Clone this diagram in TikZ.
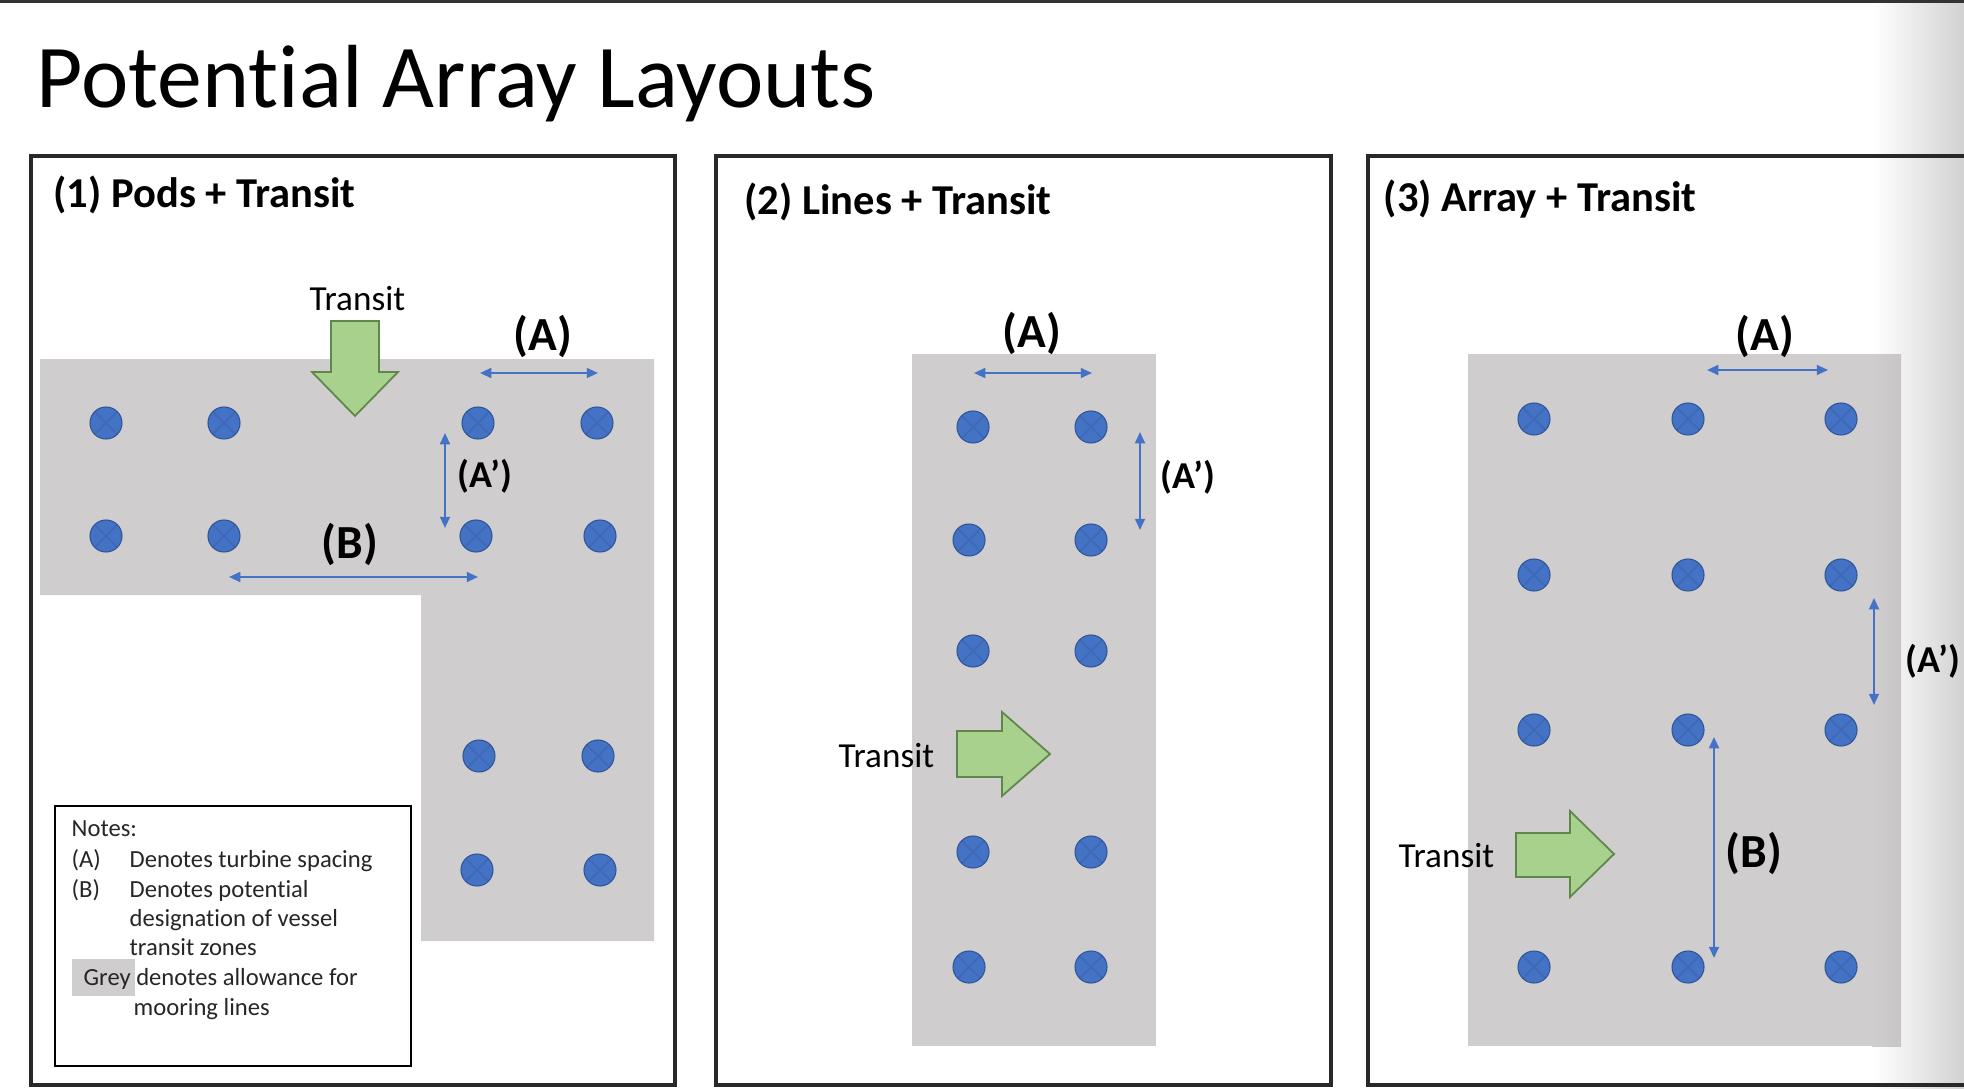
\documentclass[tikz,border=0pt]{standalone}
\usepackage{fontspec}
\setmainfont{Carlito}[Ligatures=NoCommon]
\usetikzlibrary{arrows.meta}
\definecolor{tblue}{RGB}{68,114,196}
\definecolor{tedge}{RGB}{47,85,151}
\definecolor{zone}{RGB}{208,205,206}
\definecolor{tgreen}{RGB}{169,209,142}
\definecolor{tgreenedge}{RGB}{96,135,75}
\definecolor{frame}{RGB}{40,40,40}
\definecolor{edgegray}{RGB}{210,210,210}
\begin{document}
\begin{tikzpicture}[x=0.01cm,y=-0.01cm,
  panel/.style={draw=frame,line width=0.9pt},
  turbine/.style={circle,fill=tblue,draw=tedge,line width=0.3pt,minimum size=0.32cm,inner sep=0pt,
     path picture={\draw[tedge,line width=0.5pt,opacity=0.3]
       (path picture bounding box.north west)--(path picture bounding box.south east)
       (path picture bounding box.north east)--(path picture bounding box.south west);}},
  dim/.style={draw=tblue,line width=0.6pt,{Triangle[length=3.2pt,width=2.8pt]}-{Triangle[length=3.2pt,width=2.8pt]}},
  transit/.style={fill=tgreen,draw=tgreenedge,line width=0.5pt,line join=miter},
  bigtitle/.style={font=\fontsize{25.5}{30}\selectfont,inner sep=0pt,anchor=base west},
  ptitle/.style={font=\bfseries\fontsize{12.1}{15}\selectfont,inner sep=0pt,anchor=base west},
  lab/.style={font=\bfseries\fontsize{13.5}{16}\selectfont,inner sep=0pt,anchor=base},
  labp/.style={font=\bfseries\fontsize{10.8}{13}\selectfont,inner sep=0pt,anchor=base west},
  tlab/.style={font=\fontsize{10}{12}\selectfont,inner sep=0pt,anchor=base west},
  note/.style={font=\fontsize{7}{8.5}\selectfont,inner sep=0pt,anchor=base west,text=black!85},
]
\useasboundingbox (0,0) rectangle (1964,1088);
\clip (0,0) rectangle (1964,1088);
\fill[white] (0,0) rectangle (1964,1088);
\shade[left color=white,right color=edgegray] (1872,0) rectangle (1964,1088);
\fill[black!80] (0,0) rectangle (1964,3);

% title
\node[bigtitle] (title) at (36,108) {Potential Array Layouts};

% panels
\draw[panel] (31,156) rectangle (675,1085);
\draw[panel] (716,156) rectangle (1331,1085);
\draw[panel] (1368,156) rectangle (1995,1085);

\node[ptitle] (t1) at (53,208) {(1) Pods + Transit};
\node[ptitle] (t2) at (744,215) {(2) Lines + Transit};
\node[ptitle] (t3) at (1383,212) {(3) Array + Transit};

% ---------- panel 1 ----------
\fill[zone] (40,359) -- (654,359) -- (654,941) -- (421,941) -- (421,595) -- (40,595) -- cycle;
\foreach \n/\x/\y in {a/106/423,b/224/423,c/478/423,d/597/423,e/106/536,f/224/536,g/476/536,h/600/536,i/479/756,j/598/756,k/477/870,l/600/870}
  \node[turbine] (p1\n) at (\x,\y) {};
\coordinate (p1A1) at (480,373); \coordinate (p1A2) at (598,373);
\draw[dim] (p1A1) -- (p1A2);
\node[lab] (p1Al) at (543,350) {(A)};
\coordinate (p1P1) at (445,433); \coordinate (p1P2) at (445,528);
\draw[dim] (p1P1) -- (p1P2);
\node[labp] (p1Pl) at (457,487) {(A’)};
\coordinate (p1B1) at (229,577); \coordinate (p1B2) at (478,577);
\draw[dim] (p1B1) -- (p1B2);
\node[lab] (p1Bl) at (350,558) {(B)};
\draw[transit] (331,321) -- (379,321) -- (379,372) -- (398,372) -- (355,416) -- (312,372) -- (331,372) -- cycle;
\node[tlab] (p1T) at (309,310) {Transit};

% notes
\draw[black,line width=0.8pt] (55,806) rectangle (411,1066);
\fill[zone] (72,959) rectangle (135,996);
\node[note] (n0) at (71,836) {Notes:};
\node[note] (n1a) at (71,867) {(A)};
\node[note] (n1b) at (129,867) {Denotes turbine spacing};
\node[note] (n2a) at (71,897) {(B)};
\node[note] (n2b) at (129,897) {Denotes potential};
\node[note] (n3) at (129,926) {designation of vessel};
\node[note] (n4) at (129,955) {transit zones};
\node[note] (n5) at (83,985) {Grey denotes allowance for};
\node[note] (n6) at (133,1015) {mooring lines};

% ---------- panel 2 ----------
\fill[zone] (912,354) rectangle (1156,1046);
\foreach \n/\x/\y in {a/973/427,b/1091/427,c/969/540,d/1091/540,e/973/651,f/1091/651,g/973/852,h/1091/852,i/969/967,j/1091/967}
  \node[turbine] (p2\n) at (\x,\y) {};
\coordinate (p2A1) at (974,373); \coordinate (p2A2) at (1092,373);
\draw[dim] (p2A1) -- (p2A2);
\node[lab] (p2Al) at (1032,347) {(A)};
\coordinate (p2P1) at (1140,432); \coordinate (p2P2) at (1140,530);
\draw[dim] (p2P1) -- (p2P2);
\node[labp] (p2Pl) at (1160,488) {(A’)};
\draw[transit] (957,731) -- (1002,731) -- (1002,712) -- (1050,754) -- (1002,796) -- (1002,777) -- (957,777) -- cycle;
\node[tlab] (p2T) at (838,767) {Transit};

% ---------- panel 3 ----------
\fill[zone] (1468,354) rectangle (1873,1046);
\shade[left color=zone,right color=zone!96!black] (1872,354) rectangle (1901,1046);
\foreach \n/\x/\y in {a/1534/419,b/1688/419,c/1841/419,d/1534/575,e/1688/575,f/1841/575,g/1534/730,h/1688/730,i/1841/730,j/1534/967,k/1688/967,l/1841/967}
  \node[turbine] (p3\n) at (\x,\y) {};
\coordinate (p3A1) at (1707,370); \coordinate (p3A2) at (1828,370);
\draw[dim] (p3A1) -- (p3A2);
\node[lab] (p3Al) at (1765,350) {(A)};
\coordinate (p3P1) at (1874,598); \coordinate (p3P2) at (1874,705);
\draw[dim] (p3P1) -- (p3P2);
\node[labp] (p3Pl) at (1905,672) {(A’)};
\coordinate (p3B1) at (1714,737); \coordinate (p3B2) at (1714,958);
\draw[dim] (p3B1) -- (p3B2);
\node[lab] (p3Bl) at (1754,867) {(B)};
\draw[transit] (1516,833) -- (1570,833) -- (1570,811) -- (1614,854) -- (1570,897) -- (1570,877) -- (1516,877) -- cycle;
\node[tlab] (p3T) at (1398,867) {Transit};
\end{tikzpicture}
\end{document}
